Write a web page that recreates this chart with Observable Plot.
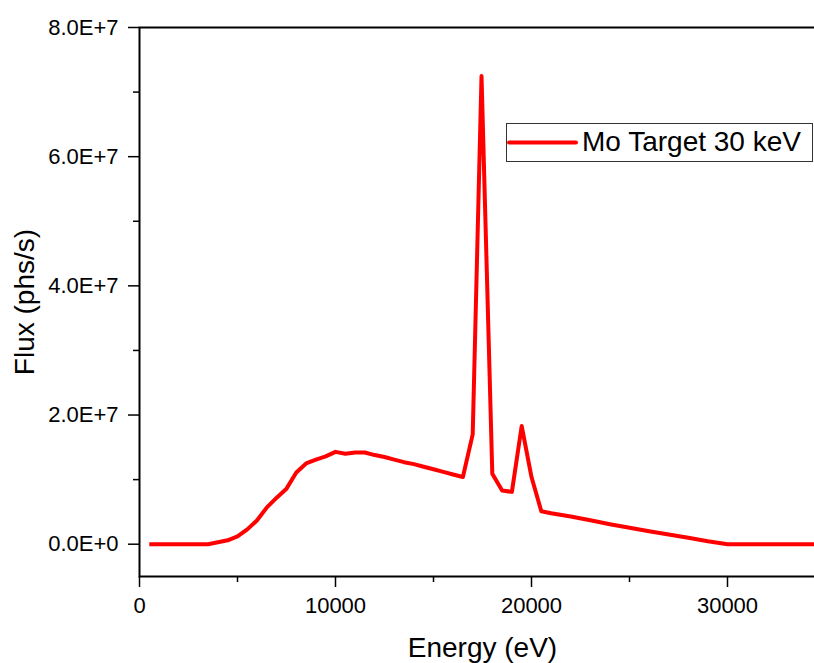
<!DOCTYPE html>
<html>
<head>
<meta charset="utf-8">
<script src="https://cdn.jsdelivr.net/npm/d3@7"></script>
<script src="https://cdn.jsdelivr.net/npm/@observablehq/plot@0.6"></script>
<style>
  html, body { margin: 0; padding: 0; background: #fff; overflow: hidden; }
  #wrap { position: relative; width: 814px; height: 663px; overflow: hidden; }
  #wrap > svg { max-width: none !important; width: 830px; height: 663px; display: block; }
  #legend {
    position: absolute; left: 506px; top: 123px; width: 307px; height: 39px;
    box-sizing: border-box; border: 1px solid #333; background: #fff;
    font-family: "Liberation Sans", Arial, sans-serif; font-size: 28px; color: #000;
  }
  #legend svg { position: absolute; left: 0; top: 0; }
  #legend span { position: absolute; left: 75px; top: 1px; line-height: 34px; white-space: nowrap; }
</style>
</head>
<body>
<div id="wrap"></div>
<script>
// Energy (eV)
const energy = [500, 1000, 2000, 3000, 3500, 4000, 4500, 5000, 5500, 6000, 6500, 7000, 7500, 8000, 8500, 9000, 9500, 10000, 10500, 11000, 11500, 12000, 12500, 13000, 13500, 14000, 14500, 15000, 15500, 16000, 16500, 17000, 17450, 18000, 18500, 19000, 19500, 20000, 20500, 21000, 22000, 23000, 24000, 25000, 26000, 27000, 28000, 29000, 30000, 31000, 32000, 33000, 34000, 35000];
// Flux (phs/s)
const flux = [0, 0, 0, 0, 0, 0.3e6, 0.6e6, 1.2e6, 2.3e6, 3.7e6, 5.7e6, 7.2e6, 8.6e6, 11.1e6, 12.5e6, 13.1e6, 13.6e6, 14.3e6, 14.0e6, 14.2e6, 14.2e6, 13.8e6, 13.5e6, 13.1e6, 12.7e6, 12.4e6, 12.0e6, 11.6e6, 11.2e6, 10.8e6, 10.4e6, 17.0e6, 72.5e6, 10.9e6, 8.3e6, 8.1e6, 18.3e6, 10.4e6, 5.1e6, 4.8e6, 4.3e6, 3.7e6, 3.1e6, 2.55e6, 2.0e6, 1.5e6, 1.0e6, 0.45e6, 0, 0, 0, 0, 0, 0];

const seriesName = "Mo Target 30 keV";
const xTitle = "Energy (eV)";
const yTitle = "Flux (phs/s)";
const xMajor = [0, 10000, 20000, 30000];
const xMinor = [5000, 15000, 25000];
const yMajor = [0, 2e7, 4e7, 6e7, 8e7];
const yMinor = [1e7, 3e7, 5e7, 7e7];

const data = energy.map((e, i) => ({energy: e, flux: flux[i]}));
const font = "'Liberation Sans', Arial, sans-serif";

const chart = Plot.plot({
  width: 830,
  height: 663,
  marginLeft: 139,
  marginRight: 5,
  marginTop: 27,
  marginBottom: 87,
  style: {fontFamily: font, fontSize: "22px", color: "#000", background: "#fff", maxWidth: "none"},
  x: {domain: [0, 35000]},
  y: {domain: [-5e6, 8e7]},
  marks: [
    Plot.line(data, {x: "energy", y: "flux", stroke: "#ff0000", strokeWidth: 4, strokeLinejoin: "round", strokeLinecap: "butt"}),
    Plot.frame({stroke: "#000", strokeWidth: 2}),
    Plot.axisX(xMajor, {tickSize: 11, tickPadding: 10, tickFormat: d => String(d), label: null, stroke: "#000", strokeWidth: 1.5, fontSize: 22, fill: "#000"}),
    Plot.axisX(xMinor, {tickSize: 6, tickFormat: () => "", label: null, stroke: "#000", strokeWidth: 1.5}),
    Plot.axisY(yMajor, {tickSize: 11, tickPadding: 10, tickFormat: d => d.toExponential(1).toUpperCase(), label: null, stroke: "#000", strokeWidth: 1.5, fontSize: 22, fill: "#000"}),
    Plot.axisY(yMinor, {tickSize: 6, tickFormat: () => "", label: null, stroke: "#000", strokeWidth: 1.5}),
    Plot.text([xTitle], {frameAnchor: "bottom", textAnchor: "middle", lineAnchor: "top", dy: 61, fontSize: 28, fill: "#000"}),
    Plot.text([yTitle], {frameAnchor: "left", textAnchor: "middle", lineAnchor: "middle", rotate: -90, dx: -114, fontSize: 28, fill: "#000"})
  ]
});

const wrap = document.getElementById("wrap");
wrap.appendChild(chart);

const legend = document.createElement("div");
legend.id = "legend";
legend.innerHTML = `<svg width="75" height="37"><line x1="2" x2="69" y1="18.5" y2="18.5" stroke="#ff0000" stroke-width="4" stroke-linecap="round"></line></svg><span>${seriesName}</span>`;
wrap.appendChild(legend);
</script>
</body>
</html>
